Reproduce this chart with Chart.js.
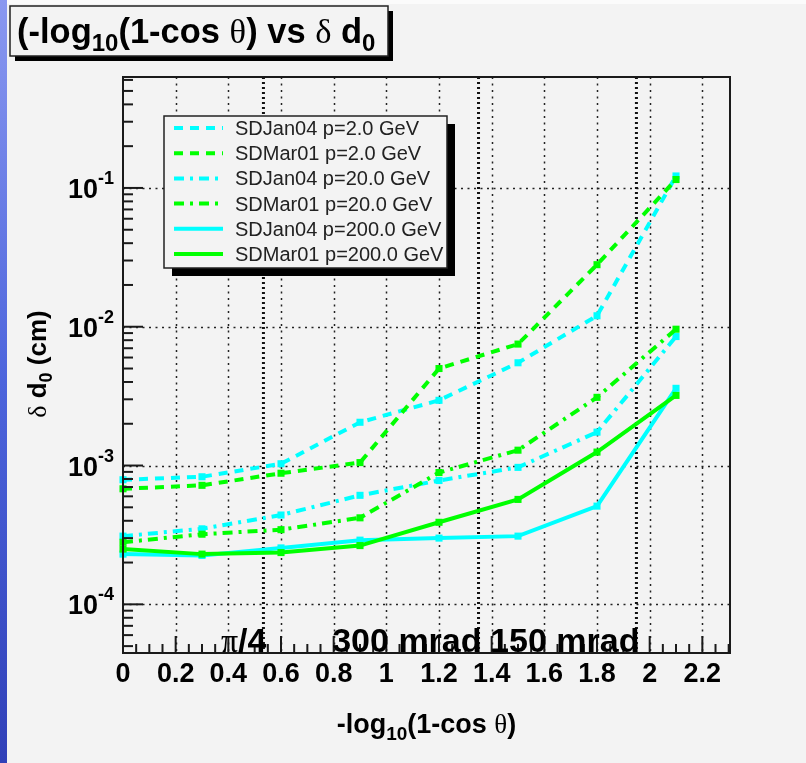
<!DOCTYPE html>
<html>
<head>
<meta charset="utf-8">
<script src="https://cdn.jsdelivr.net/npm/chart.js@4.4.1/dist/chart.umd.min.js"></script>
<style>
  html, body { margin: 0; padding: 0; background: #f3f3f3; }
  #chart { display: block; }
</style>
</head>
<body>
<canvas id="chart" width="806" height="763"></canvas>
<script>
// data
const xValues = [0, 0.3, 0.6, 0.9, 1.2, 1.5, 1.8, 2.1];
const jan04P2 = [7.9e-4, 8.3e-4, 1.03e-3, 2.05e-3, 2.95e-3, 5.5e-3, 1.2e-2, 0.122];
const mar01P2 = [6.8e-4, 7.2e-4, 8.8e-4, 1.05e-3, 5.0e-3, 7.5e-3, 2.8e-2, 0.115];
const jan04P20 = [3.1e-4, 3.5e-4, 4.4e-4, 6.1e-4, 7.8e-4, 9.7e-4, 1.74e-3, 8.5e-3];
const mar01P20 = [2.8e-4, 3.2e-4, 3.45e-4, 4.2e-4, 8.9e-4, 1.29e-3, 3.1e-3, 9.6e-3];
const jan04P200 = [2.3e-4, 2.25e-4, 2.55e-4, 2.9e-4, 3.0e-4, 3.1e-4, 5.1e-4, 3.6e-3];
const mar01P200 = [2.5e-4, 2.3e-4, 2.36e-4, 2.65e-4, 3.9e-4, 5.7e-4, 1.25e-3, 3.2e-3];

const seriesLabels = ['SDJan04 p=2.0 GeV', 'SDMar01 p=2.0 GeV', 'SDJan04 p=20.0 GeV',
                      'SDMar01 p=20.0 GeV', 'SDJan04 p=200.0 GeV', 'SDMar01 p=200.0 GeV'];

const xTickLabels = ['0', '0.2', '0.4', '0.6', '0.8', '1', '1.2', '1.4', '1.6', '1.8', '2', '2.2'];
const yTickExponents = [-4, -3, -2, -1];

// reference angles marked on the plot
const markerAngles = [Math.PI / 4, 0.3, 0.15];
const markerLabels = ['π/4', '300 mrad', '150 mrad'];

const X_MIN = 0, X_MAX = 2.305;
const Y_MIN = 4.46e-5, Y_MAX = 0.63;

const CYAN = '#00ffff';
const GREEN = '#00ff00';
const DASHED = [9, 7];
const DASHDOT = [10, 6, 3, 6];

const SANS = '"Liberation Sans", Arial, Helvetica, sans-serif';
const SERIF = '"Liberation Serif", "Times New Roman", serif';

function series(i, values, color, dash) {
    return {
        label: seriesLabels[i],
        data: values.map((v, k) => ({ x: xValues[k], y: v })),
        borderColor: color,
        backgroundColor: color,
        borderWidth: 4,
        borderDash: dash,
        pointStyle: 'rect',
        pointRadius: 5,
        pointBorderWidth: 0,
        pointBackgroundColor: color,
        tension: 0,
        fill: false,
        clip: false,
        order: -i
    };
}

// draw a run of text pieces (for sub/superscripts)
function richText(ctx, parts, x, y, align) {
    let total = 0;
    parts.forEach(p => {
        ctx.font = (p.weight || 'bold') + ' ' + p.size + 'px ' + (p.family || SANS);
        p.w = ctx.measureText(p.t).width;
        total += p.w;
    });
    let cx = x;
    if (align === 'center') cx = x - total / 2;
    if (align === 'right') cx = x - total;
    ctx.textAlign = 'left';
    ctx.textBaseline = 'alphabetic';
    parts.forEach(p => {
        ctx.font = (p.weight || 'bold') + ' ' + p.size + 'px ' + (p.family || SANS);
        ctx.fillText(p.t, cx, y + (p.dy || 0));
        cx += p.w;
    });
}

function line(ctx, x1, y1, x2, y2) {
    ctx.beginPath();
    ctx.moveTo(x1, y1);
    ctx.lineTo(x2, y2);
    ctx.stroke();
}

function boxWithShadow(ctx, x0, y0, x1, y1, sh) {
    ctx.fillStyle = '#000';
    ctx.fillRect(x0 + sh, y0 + sh, x1 - x0, y1 - y0);
    ctx.fillStyle = '#f3f3f3';
    ctx.fillRect(x0, y0, x1 - x0, y1 - y0);
    ctx.strokeStyle = '#222';
    ctx.lineWidth = 1.5;
    ctx.setLineDash([]);
    ctx.strokeRect(x0, y0, x1 - x0, y1 - y0);
}

const rootStyle = {
    id: 'rootStyle',
    beforeDraw(chart) {
        const ctx = chart.ctx;
        ctx.save();
        ctx.fillStyle = '#f3f3f3';
        ctx.fillRect(0, 0, chart.width, chart.height);
        ctx.fillStyle = '#fbfbfb';
        ctx.fillRect(0, 0, chart.width, 4);
        const g = ctx.createLinearGradient(0, 0, 0, chart.height);
        g.addColorStop(0, '#8a98f0');
        g.addColorStop(0.5, '#4c64dc');
        g.addColorStop(1, '#3040b8');
        ctx.fillStyle = g;
        ctx.fillRect(0, 0, 7, chart.height);
        ctx.restore();
    },
    beforeDatasetsDraw(chart) {
        const ctx = chart.ctx, a = chart.chartArea;
        const xs = chart.scales.x, ys = chart.scales.y;
        ctx.save();
        // dotted grid
        ctx.strokeStyle = '#222';
        ctx.lineWidth = 1.5;
        ctx.setLineDash([2, 4.5]);
        xTickLabels.forEach(t => {
            const v = parseFloat(t);
            if (v === 0) return;
            const px = Math.round(xs.getPixelForValue(v)) + 0.5;
            line(ctx, px, a.top, px, a.bottom);
        });
        yTickExponents.forEach(e => {
            const py = Math.round(ys.getPixelForValue(Math.pow(10, e))) + 0.5;
            line(ctx, a.left, py, a.right, py);
        });
        // heavier lines at the reference angles
        ctx.strokeStyle = '#111';
        ctx.lineWidth = 3;
        ctx.setLineDash([2, 3]);
        markerAngles.forEach(t => {
            const px = xs.getPixelForValue(-Math.log10(1 - Math.cos(t)));
            line(ctx, px, a.top, px, a.bottom);
        });
        ctx.restore();
    },
    afterDatasetsDraw(chart) {
        const ctx = chart.ctx, a = chart.chartArea;
        const xs = chart.scales.x, ys = chart.scales.y;
        ctx.save();
        ctx.setLineDash([]);
        ctx.strokeStyle = '#1a1a1a';
        ctx.lineWidth = 2;
        ctx.strokeRect(a.left, a.top, a.right - a.left, a.bottom - a.top);

        // x ticks, inside the frame
        for (let k = 0; k * 0.05 <= X_MAX + 1e-9; k++) {
            const px = xs.getPixelForValue(k * 0.05);
            line(ctx, px, a.bottom, px, a.bottom - (k % 4 === 0 ? 17 : 9));
        }
        // y ticks
        for (let e = -5; e <= -1; e++) {
            for (let m = 1; m <= 9; m++) {
                const v = m * Math.pow(10, e);
                if (v < Y_MIN || v > Y_MAX) continue;
                const py = ys.getPixelForValue(v);
                line(ctx, a.left, py, a.left + (m === 1 ? 20 : 10), py);
            }
        }

        ctx.fillStyle = '#000';
        // x tick labels
        ctx.font = 'bold 27px ' + SANS;
        ctx.textAlign = 'center';
        ctx.textBaseline = 'alphabetic';
        xTickLabels.forEach(t => {
            ctx.fillText(t, xs.getPixelForValue(parseFloat(t)), 682);
        });
        // y tick labels 10^e
        yTickExponents.forEach(e => {
            const py = ys.getPixelForValue(Math.pow(10, e));
            richText(ctx, [
                { t: '10', size: 27 },
                { t: String(e), size: 18, dy: -14 }
            ], 114, py + 10, 'right');
        });

        // axis titles
        richText(ctx, [
            { t: '-log', size: 27 },
            { t: '10', size: 19, dy: 7 },
            { t: '(1-cos ', size: 27 },
            { t: 'θ', size: 27, weight: 'normal', family: SERIF },
            { t: ')', size: 27 }
        ], (a.left + a.right) / 2, 733, 'center');

        ctx.save();
        ctx.translate(46, 364);
        ctx.rotate(-Math.PI / 2);
        richText(ctx, [
            { t: 'δ', size: 26, weight: 'normal', family: SERIF },
            { t: ' d', size: 26 },
            { t: '0', size: 18, dy: 6 },
            { t: ' (cm)', size: 26 }
        ], 0, 0, 'center');
        ctx.restore();

        // labels of the reference angles
        markerAngles.forEach((t, i) => {
            const px = xs.getPixelForValue(-Math.log10(1 - Math.cos(t)));
            const parts = markerLabels[i].startsWith('π')
                ? [{ t: 'π', size: 34, weight: 'normal', family: SERIF }, { t: markerLabels[i].slice(1), size: 34 }]
                : [{ t: markerLabels[i], size: 34 }];
            richText(ctx, parts, px + 3, 652, 'right');
        });

        // legend
        boxWithShadow(ctx, 164, 116, 447, 268, 8);
        chart.data.datasets.forEach((ds, i) => {
            const y = 128 + i * 25.2;
            ctx.strokeStyle = ds.borderColor;
            ctx.lineWidth = 4;
            ctx.setLineDash(ds.borderDash || []);
            line(ctx, 174, y, 223, y);
            ctx.setLineDash([]);
            ctx.fillStyle = '#222';
            ctx.font = '20px ' + SANS;
            ctx.textAlign = 'left';
            ctx.textBaseline = 'alphabetic';
            ctx.fillText(ds.label, 235, y + 7);
        });

        // title box
        boxWithShadow(ctx, 10, 6, 388, 56, 5);
        ctx.fillStyle = '#000';
        richText(ctx, [
            { t: '(-log', size: 34.5 },
            { t: '10', size: 24, dy: 8 },
            { t: '(1-cos ', size: 34.5 },
            { t: 'θ', size: 34.5, weight: 'normal', family: SERIF },
            { t: ') vs ', size: 34.5 },
            { t: 'δ', size: 34.5, weight: 'normal', family: SERIF },
            { t: ' d', size: 34.5 },
            { t: '0', size: 24, dy: 8 }
        ], 17, 43, 'left');
        ctx.restore();
    }
};

const chart = new Chart(document.getElementById('chart'), {
    type: 'line',
    data: {
        datasets: [
            series(0, jan04P2, CYAN, DASHED),
            series(1, mar01P2, GREEN, DASHED),
            series(2, jan04P20, CYAN, DASHDOT),
            series(3, mar01P20, GREEN, DASHDOT),
            series(4, jan04P200, CYAN, []),
            series(5, mar01P200, GREEN, [])
        ]
    },
    options: {
        responsive: false,
        animation: false,
        events: [],
        layout: { padding: { left: 123, top: 77, right: 76, bottom: 110 } },
        scales: {
            x: { type: 'linear', min: X_MIN, max: X_MAX, display: false },
            y: { type: 'logarithmic', min: Y_MIN, max: Y_MAX, display: false }
        },
        plugins: {
            legend: { display: false },
            tooltip: { enabled: false }
        }
    },
    plugins: [rootStyle]
});
</script>
</body>
</html>
